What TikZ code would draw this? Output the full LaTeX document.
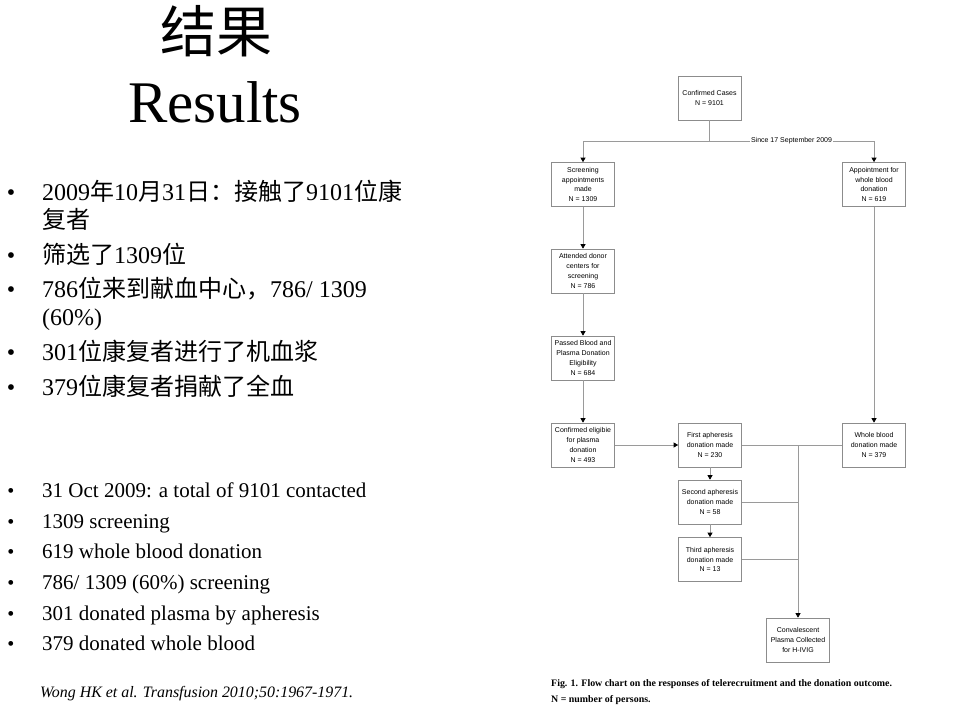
\documentclass[tikz,border=0pt]{standalone}
\usepackage{fontspec}
\setmainfont{Liberation Serif}
\newfontfamily\cjk{Noto Sans CJK SC}
\newfontfamily\flowfont{Liberation Sans}
\usetikzlibrary{arrows.meta}

\definecolor{boxgray}{HTML}{8C8C8C}
\definecolor{linegray}{HTML}{9A9A9A}

\tikzset{
  box/.style={draw=boxgray, line width=0.7pt, minimum width=63pt, minimum height=44pt,
    inner sep=1pt, align=center, font=\flowfont\fontsize{7}{9.8}\selectfont},
  link/.style={draw=linegray, line width=0.7pt},
  arrow/.style={link, -{Triangle[length=4.5pt,width=5pt,color=black]}},
  zhline/.style={anchor=base west, inner sep=0pt, font=\fontsize{24}{28}\selectfont},
  enline/.style={anchor=base west, inner sep=0pt, font=\fontsize{21}{25}\selectfont},
  dot/.style={anchor=base, inner sep=0pt},
}

\begin{document}
\begin{tikzpicture}[x=1pt, y=-1pt]
  \useasboundingbox[fill=white] (0,0) rectangle (960,720);

  % title
  \node[inner sep=0pt, font=\cjk\fontsize{56}{60}\selectfont] (titlezh) at (216,31) {结果};
  \node[anchor=base, inner sep=0pt, font=\fontsize{59}{63}\selectfont] (titleen) at (215,122) {Results};

  % chinese bullets
  \foreach \y in {200,263,297,360,395} {
    \node[dot, font=\fontsize{24}{28}\selectfont] at (11,\y) {•};
  };
  \node[zhline] (zh1) at (42,200) {2009{\cjk 年}10{\cjk 月}31{\cjk 日：接触了}9101{\cjk 位康}};
  \node[zhline] (zh1b) at (42,228) {\cjk 复者};
  \node[zhline] (zh2) at (42,263) {{\cjk 筛选了}1309{\cjk 位}};
  \node[zhline] (zh3) at (42,297) {786{\cjk 位来到献血中心，}786/ 1309};
  \node[zhline] (zh3b) at (42,325) {(60\%)};
  \node[zhline] (zh4) at (42,360) {301{\cjk 位康复者进行了机血浆}};
  \node[zhline] (zh5) at (42,395) {379{\cjk 位康复者捐献了全血}};

  % english bullets
  \foreach \y/\txt [count=\i] in {497/{31 Oct 2009: a total of 9101 contacted},
      528/{1309 screening}, 558/{619 whole blood donation},
      589/{786/ 1309 (60\%) screening}, 620/{301 donated plasma by apheresis},
      650/{379 donated whole blood}} {
    \node[dot, font=\fontsize{20}{24}\selectfont] at (11,\y) {•};
    \node[enline] (en\i) at (42,\y) {\txt};
  };
  \node[anchor=base west, inner sep=0pt, font=\itshape\fontsize{15.9}{18}\selectfont] (cite) at (40,697)
    {Wong HK et al. Transfusion 2010;50:1967-1971.};

  % flow chart
  \node[box] (conf) at (709.5,98) {Confirmed Cases\\N = 9101};
  \node[box] (screen) at (583,184.5) {Screening\\appointments\\made\\N = 1309};
  \node[box] (appt) at (874,184.5) {Appointment for\\whole blood\\donation\\N = 619};
  \node[box] (attend) at (583,271) {Attended donor\\centers for\\screening\\N = 786};
  \node[box] (passed) at (583,358) {Passed Blood and\\Plasma Donation\\Eligibility\\N = 684};
  \node[box] (elig) at (583,445) {Confirmed eligibie\\for plasma\\donation\\N = 493};
  \node[box] (first) at (710,445) {First apheresis\\donation made\\N = 230};
  \node[box] (whole) at (874,445) {Whole blood\\donation made\\N = 379};
  \node[box] (second) at (710,502) {Second apheresis\\donation made\\N = 58};
  \node[box] (third) at (710,559.5) {Third apheresis\\donation made\\N = 13};
  \node[box] (conv) at (798,640) {Convalescent\\Plasma Collected\\for H-IVIG};

  \coordinate (split) at (conf.south |- 0,141);
  \coordinate (junc) at (conv.north |- first.east);
  \draw[link] (conf) -- (split);
  \draw[arrow] (split) -| (screen);
  \draw[arrow] (split) -| (appt);
  \node[fill=white, inner sep=1pt, font=\flowfont\fontsize{7}{9}\selectfont] (since) at (791.5,141)
    {Since 17 September 2009};

  \draw[arrow] (screen) -- (attend);
  \draw[arrow] (attend) -- (passed);
  \draw[arrow] (passed) -- (elig);
  \draw[arrow] (elig) -- (first);
  \draw[arrow] (appt) -- (whole);
  \draw[arrow] (first) -- (second);
  \draw[arrow] (second) -- (third);
  \draw[link] (first.east) -- (whole.west);
  \draw[link] (second.east) -- (second.east -| junc);
  \draw[link] (third.east) -- (third.east -| junc);
  \draw[arrow] (junc) -- (conv);

  % caption
  \node[anchor=base west, inner sep=0pt, font=\bfseries\fontsize{9.9}{12}\selectfont] (cap1) at (551,686)
    {Fig. 1. Flow chart on the responses of telerecruitment and the donation outcome.};
  \node[anchor=base west, inner sep=0pt, font=\bfseries\fontsize{9.9}{12}\selectfont] (cap2) at (551,702)
    {N = number of persons.};
\end{tikzpicture}
\end{document}
